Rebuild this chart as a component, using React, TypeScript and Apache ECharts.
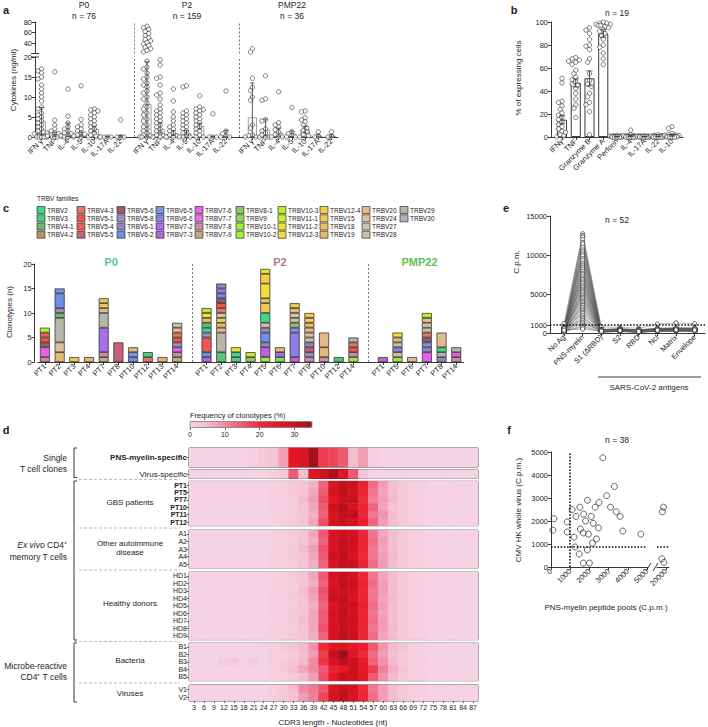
import React, { useEffect, useRef } from 'react';
import * as echarts from 'echarts';

const FONT = '"Liberation Sans", Arial, Helvetica, sans-serif';
const INK = '#1c1c1c';

/* ---------------- panel a : cytokines ---------------- */
const aCytokines = ['IFN γ', 'TNF', 'IL-4', 'IL-5', 'IL-10', 'IL-17A', 'IL-22'];
const aCohorts = ['P0', 'P2', 'PMP22'];
const aCohortN = [76, 159, 36];
const aMeanP0 = [3.9, 0.6, 0.8, 0.6, 2.0, 0.1, 0.2];
const aMeanP2 = [8.2, 2.0, 0.9, 1.0, 2.7, 0.1, 0.4];
const aMeanPMP22 = [4.9, 1.8, 1.1, 0.8, 2.0, 0.3, 0.3];
const aErrP0 = [[0.5, 7.4], [0.2, 1.2], [0.1, 3.5], [0.2, 1.2], [1.3, 2.7], [0, 0.2], [0, 0.4]];
const aErrP2 = [[0, 18.8], [1.0, 3.6], [0.4, 1.6], [0.5, 1.6], [2.0, 3.4], [0, 0.2], [0, 1.6]];
const aErrPMP22 = [[0, 13.5], [0.3, 4.5], [0.2, 2.2], [0.1, 1.5], [1.0, 2.6], [0, 0.6], [0, 0.6]];
const aPtsP0 = [
  [17, 16.5, 16, 15, 14.5, 13, 12, 11, 10, 9, 7.5, 7, 6, 5.5, 5, 4.5, 4, 3.5, 3, 2.5, 2, 1.5, 1.2, 1, 0.8, 0.5, 0.3, 0.2, 0.1, 0, 0, 0, 0, 0],
  [16.3, 4.2, 3, 2, 1.5, 1, 0.8, 0.5, 0.3, 0.2, 0, 0, 0, 0],
  [12, 5.2, 3.5, 2.5, 2, 1.5, 1, 0.8, 0.5, 0.3, 0, 0, 0],
  [12.8, 4.4, 3, 2.5, 2, 1.5, 1, 0.7, 0.5, 0.3, 0, 0],
  [7, 6.8, 6.5, 6, 5.5, 5, 4.5, 4, 3.5, 3, 2.5, 2, 1.5, 1, 0.5, 0.2, 0],
  [0, 0, 0, 0],
  [4.3, 0, 0, 0],
];
const aPtsP2 = [
  [72, 69, 66, 62, 58, 54, 50, 47, 44, 41, 38, 35, 32, 29, 26, 23, 19, 17.5, 17, 16, 15, 14.5, 13.5, 13, 12.5, 11.5, 11, 10, 9.5, 8.5, 7.5, 7, 6, 5.5, 4.5, 4, 3, 2.5, 2, 1.5, 1, 0.5, 0.3, 0, 0, 0, 0],
  [19.3, 18, 15, 14.7, 13, 11, 10.5, 9.5, 8, 7, 6.5, 6, 5.5, 5, 4.5, 4, 3.5, 3, 2.5, 2, 1.5, 1, 0.5, 0.3, 0, 0, 0],
  [12, 9, 6.3, 5, 4, 3, 2.5, 2, 1.5, 1, 0.5, 0.3, 0, 0],
  [12.8, 12.5, 6.5, 6, 5.5, 5, 4.5, 4, 3.5, 3, 2.5, 2, 1.5, 1, 0.5, 0, 0, 0],
  [10.3, 7.5, 7, 6.8, 6.5, 6, 5.5, 5, 4.5, 4, 3.5, 3, 2.5, 2, 1.5, 1, 0.5, 0, 0],
  [5.8, 0, 0, 0],
  [11.5, 1.5, 0.8, 0.3, 0, 0],
];
const aPtsPMP22 = [
  [29, 23, 14.7, 12.4, 11.6, 10, 9.2, 3, 2.2, 0.5, 0.3, 0, 0, 0],
  [15.3, 9.5, 9.2, 4.3, 4, 2, 1.5, 1, 0.5, 0, 0],
  [11.3, 3.6, 3, 2.5, 1.8, 1.2, 0.6, 0.2, 0, 0],
  [7.4, 1.3, 0.8, 0.4, 0, 0],
  [6.5, 6.3, 4.8, 4.3, 3.8, 3, 2.3, 1.6, 1.2, 0.7, 0.3, 0],
  [1.3, 0.2, 0],
  [1.3, 0.2, 0],
];

/* ---------------- panel b ---------------- */
const bMarkers = ['IFNγ', 'TNF', 'Granzyme B', 'Granzyme A', 'Perforin', 'IL-4', 'IL-17A', 'IL-22', 'IL-10'];
const bN = 19;
const bMeans = [15, 47, 51, 90, 0.4, 0.7, 0.3, 0.5, 1.4];
const bErr = [[11.5, 18.5], [43.5, 50.5], [44.5, 57.5], [86.8, 93.2], [0.2, 0.6], [0.3, 1.1], [0.1, 0.5], [0.3, 0.7], [0.8, 2.0]];
const bPoints = [
  [51, 47, 31, 30, 27, 24, 21, 19, 17, 15, 13, 11, 9, 7, 5, 4, 2, 1, 0],
  [69, 68, 67, 66, 65, 63, 58, 55, 52, 50, 48, 46, 45, 42, 38, 33, 28, 25, 17],
  [95, 93, 90, 85, 80, 79, 76, 68, 65, 55, 49, 46, 44, 38, 35, 30, 28, 22, 2],
  [100, 99, 99, 98, 98, 97, 97, 96, 95, 93, 92, 90, 88, 85, 80, 78, 73, 68, 63],
  [1.5, 1, 1, 0.8, 0.6, 0.5, 0.4, 0.3, 0.3, 0.2, 0.2, 0.1, 0.1, 0, 0, 0, 0, 0, 0],
  [6, 2, 1.5, 1.2, 1, 0.8, 0.6, 0.5, 0.4, 0.3, 0.2, 0.1, 0.1, 0, 0, 0, 0, 0, 0],
  [1.2, 1, 0.8, 0.6, 0.5, 0.4, 0.3, 0.2, 0.2, 0.1, 0.1, 0, 0, 0, 0, 0, 0, 0, 0],
  [1.8, 1.5, 1.2, 1, 0.8, 0.6, 0.5, 0.4, 0.3, 0.2, 0.1, 0.1, 0, 0, 0, 0, 0, 0, 0],
  [9, 7.5, 3, 2.2, 1.8, 1.5, 1.2, 1, 0.8, 0.6, 0.5, 0.4, 0.3, 0.2, 0.1, 0, 0, 0, 0],
];

/* ---------------- panel c : TRBV clonotypes ---------------- */
const trbvFamilies = [
  'TRBV2', 'TRBV3', 'TRBV4-1', 'TRBV4-2', 'TRBV4-3', 'TRBV5-1', 'TRBV5-4', 'TRBV5-5', 'TRBV5-6', 'TRBV5-8',
  'TRBV6-1', 'TRBV6-2', 'TRBV6-5', 'TRBV6-6', 'TRBV7-2', 'TRBV7-3', 'TRBV7-6', 'TRBV7-7', 'TRBV7-8', 'TRBV7-9',
  'TRBV8-1', 'TRBV9', 'TRBV10-1', 'TRBV10-2', 'TRBV10-3', 'TRBV11-1', 'TRBV11-2', 'TRBV12-3', 'TRBV12-4', 'TRBV15',
  'TRBV18', 'TRBV19', 'TRBV20', 'TRBV24', 'TRBV27', 'TRBV28', 'TRBV29', 'TRBV30',
];
const trbvColors = [
  '#3fd88a', '#52c878', '#73b36a', '#b8925a', '#e07a5f', '#f0554f', '#e8605e', '#c9607a', '#9d5a69', '#9a8fbd',
  '#9087c2', '#6f8fe6', '#7b93ea', '#8e7de6', '#a670e6', '#c25ee0', '#e562e8', '#ec6fe6', '#d08aa6', '#c2aa7a',
  '#95c466', '#86e04a', '#9aee3c', '#a7f030', '#b8f026', '#cfee2a', '#e6e832', '#f3dc3a', '#f2cc44', '#efc85a',
  '#e8c066', '#e3b870', '#e3b98c', '#d8c2a0', '#cfc3a8', '#c7c0a5', '#b5b5aa', '#a9b8b8',
];
const cCohorts = ['P0', 'P2', 'PMP22'];
const cCohortColors = ['#5cbcb0', '#b07c8c', '#62bd55'];
const cPatientsP0 = ['PT1', 'PT2', 'PT3', 'PT4', 'PT7', 'PT8', 'PT10', 'PT12', 'PT13', 'PT14'];
const cPatientsP2 = ['PT1', 'PT2', 'PT3', 'PT4', 'PT5', 'PT6', 'PT7', 'PT9', 'PT10', 'PT12', 'PT14'];
const cPatientsPMP22 = ['PT1', 'PT5', 'PT6', 'PT7', 'PT8', 'PT14'];
const cStacksP0: [string, number][][] = [
  [['TRBV7-8', 1], ['TRBV7-6', 2], ['TRBV5-6', 1], ['TRBV5-1', 1], ['TRBV5-4', 1], ['TRBV10-3', 1]],
  [['TRBV19', 2], ['TRBV24', 2], ['TRBV29', 5], ['TRBV4-1', 1], ['TRBV5-8', 1], ['TRBV6-2', 3], ['TRBV6-5', 1]],
  [['TRBV12-4', 1]],
  [['TRBV19', 1]],
  [['TRBV7-9', 1], ['TRBV7-8', 1], ['TRBV7-2', 5], ['TRBV29', 3], ['TRBV20', 1], ['TRBV15', 1], ['TRBV12-4', 1]],
  [['TRBV5-5', 4]],
  [['TRBV6-2', 1], ['TRBV6-5', 1], ['TRBV19', 1]],
  [['TRBV4-3', 1], ['TRBV2', 1]],
  [['TRBV19', 1]],
  [['TRBV7-9', 1], ['TRBV7-8', 1], ['TRBV7-6', 1], ['TRBV5-8', 1], ['TRBV5-1', 1], ['TRBV4-3', 1], ['TRBV20', 1], ['TRBV28', 1]],
];
const cStacksP2: [string, number][][] = [
  [['TRBV7-3', 1], ['TRBV6-2', 1], ['TRBV5-1', 3], ['TRBV5-8', 1], ['TRBV2', 1], ['TRBV3', 1], ['TRBV19', 1], ['TRBV12-3', 1], ['TRBV10-3', 1]],
  [['TRBV3', 2], ['TRBV29', 4], ['TRBV20', 1], ['TRBV19', 1], ['TRBV15', 1], ['TRBV24', 1], ['TRBV4-3', 1], ['TRBV5-1', 1], ['TRBV5-6', 1], ['TRBV6-2', 1], ['TRBV7-2', 1], ['TRBV6-1', 1]],
  [['TRBV3', 1], ['TRBV2', 1], ['TRBV11-2', 1]],
  [['TRBV8-1', 1], ['TRBV11-1', 1]],
  [['TRBV10-1', 1], ['TRBV7-3', 2], ['TRBV6-1', 1], ['TRBV6-2', 2], ['TRBV5-8', 1], ['TRBV27', 1], ['TRBV2', 2], ['TRBV15', 2], ['TRBV18', 1], ['TRBV12-3', 3], ['TRBV12-4', 2], ['TRBV11-2', 1]],
  [['TRBV9', 1], ['TRBV7-2', 1], ['TRBV19', 1]],
  [['TRBV7-3', 1], ['TRBV6-6', 5], ['TRBV6-5', 1], ['TRBV8-1', 1], ['TRBV28', 1], ['TRBV24', 1], ['TRBV20', 1], ['TRBV12-4', 1]],
  [['TRBV7-8', 1], ['TRBV5-8', 1], ['TRBV5-5', 1], ['TRBV6-1', 1], ['TRBV28', 1], ['TRBV24', 1], ['TRBV20', 1], ['TRBV19', 1], ['TRBV15', 1], ['TRBV12-4', 1]],
  [['TRBV7-8', 1], ['TRBV19', 2], ['TRBV20', 3]],
  [['TRBV3', 1]],
  [['TRBV10-1', 1], ['TRBV7-8', 1], ['TRBV5-1', 1], ['TRBV4-3', 1], ['TRBV29', 1]],
];
const cStacksPMP22: [string, number][][] = [
  [['TRBV7-3', 1]],
  [['TRBV10-1', 1], ['TRBV24', 1], ['TRBV6-6', 1], ['TRBV28', 1], ['TRBV20', 1], ['TRBV12-3', 1]],
  [['TRBV20', 1]],
  [['TRBV7-6', 2], ['TRBV6-1', 1], ['TRBV6-5', 1], ['TRBV5-6', 1], ['TRBV4-3', 1], ['TRBV28', 1], ['TRBV24', 1], ['TRBV20', 1], ['TRBV10-3', 1]],
  [['TRBV6-1', 1], ['TRBV29', 1], ['TRBV2', 1], ['TRBV20', 3]],
  [['TRBV7-8', 1], ['TRBV7-6', 1], ['TRBV29', 1]],
];

/* ---------------- panel d : CDR3 heatmap ---------------- */
const dLengths = ['3', '6', '9', '12', '15', '18', '21', '24', '27', '30', '33', '36', '39', '42', '45', '48', '51', '54', '57', '60', '63', '66', '69', '72', '75', '78', '81', '84', '87'];
const dRowsSingle1 = ['PNS-myelin-specific'];
const dRowsSingle2 = ['Virus-specific'];
const dRowsGBS = ['PT1', 'PT5', 'PT7', 'PT10', 'PT11', 'PT12'];
const dRowsAuto = ['A1', 'A2', 'A3', 'A4', 'A5'];
const dRowsHD = ['HD1', 'HD2', 'HD3', 'HD4', 'HD5', 'HD6', 'HD7', 'HD8', 'HD9'];
const dRowsBact = ['B1', 'B2', 'B3', 'B4', 'B5'];
const dRowsVir = ['V1', 'V2'];
const dValSingle1 = [[0, 0, 0, 0, 0, 0, 1, 2, 3, 8, 25, 27, 34, 18, 17, 15, 4, 8, 1, 0, 0, 0, 0, 0, 0, 0, 0, 0, 0]];
const dValSingle2 = [[0, 0, 0, 0, 0, 0, 0, 0, 1, 2, 15, 4, 26, 28, 33, 26, 15, 3, 0, 0, 0, 0, 0, 0, 0, 0, 0, 0, 0]];
const dValGBS = [
  [0, 0, 0, 0, 0, 0, 0, 0, 0.5, 1, 1.5, 3, 6, 14, 27, 30, 29, 22, 13, 8, 4, 2, 1, 0.5, 0, 0, 0, 0, 0],
  [0, 0, 0, 0, 0, 0, 0, 0, 0.6, 1, 2, 3, 7, 15, 28, 31, 28, 21, 12, 7, 4, 2, 1, 0.3, 0, 0, 0, 0, 0],
  [0, 0, 0, 0, 0, 0, 0, 0, 0.6, 1, 2, 4, 8, 16, 26, 29, 30, 20, 11, 8, 5, 2, 1, 0.5, 0, 0, 0, 0, 0],
  [0, 0, 0, 0, 0, 0, 0, 0, 0.5, 1, 1.5, 3, 7, 15, 29, 32, 27, 22, 14, 7, 3, 2, 1, 0.2, 0, 0, 0, 0, 0],
  [0, 0, 0, 0, 0, 0, 0, 0, 0.5, 1, 2, 3, 6, 14, 27, 31, 31, 21, 12, 9, 4, 2, 1, 0.5, 0, 0, 0, 0, 0],
  [0, 0, 0, 0, 0, 0, 0, 0, 0.4, 1, 1.5, 3, 7, 16, 28, 30, 28, 23, 14, 8, 4, 2, 1, 0.3, 0, 0, 0, 0, 0],
];
const dValAuto = [
  [0, 0, 0, 0, 0, 0, 0, 0, 0.5, 1, 2, 3, 7, 15, 27, 29, 28, 21, 12, 7, 4, 2, 1, 0.5, 0, 0, 0, 0, 0],
  [0, 0, 0, 0, 0, 0, 0, 0, 0.4, 1, 1.5, 3, 6, 14, 28, 31, 29, 22, 13, 8, 4, 2, 1, 0.3, 0, 0, 0, 0, 0],
  [0, 0, 0, 0, 0, 0, 0, 0, 0.6, 1, 2, 4, 8, 16, 27, 30, 28, 21, 12, 7, 4, 2, 1, 0.5, 0, 0, 0, 0, 0],
  [0, 0, 0, 0, 0, 0, 0, 0, 0.5, 1, 2, 3, 7, 15, 29, 31, 27, 20, 12, 8, 5, 2, 1, 0.4, 0, 0, 0, 0, 0],
  [0, 0, 0, 0, 0, 0, 0, 0, 0.5, 1, 1.5, 3, 6, 14, 27, 30, 30, 22, 13, 8, 4, 2, 1, 0.5, 0, 0, 0, 0, 0],
];
const dValHD = [
  [0, 0, 0, 0, 0, 0, 0, 0, 0.5, 1, 2, 3, 7, 15, 28, 30, 28, 21, 12, 7, 4, 2, 1, 0.4, 0, 0, 0, 0, 0],
  [0, 0, 0, 0, 0, 0, 0, 0, 0.4, 1, 1.5, 3, 6, 14, 27, 31, 29, 22, 13, 8, 4, 2, 1, 0.5, 0, 0, 0, 0, 0],
  [0, 0, 0, 0, 0, 0, 0, 0, 0.6, 1, 2, 4, 8, 16, 28, 29, 28, 21, 12, 8, 4, 2, 1, 0.3, 0, 0, 0, 0, 0],
  [0, 0, 0, 0, 0, 0, 0, 0, 0.5, 1, 2, 3, 7, 15, 29, 31, 27, 21, 12, 7, 5, 2, 1, 0.5, 0, 0, 0, 0, 0],
  [0, 0, 0, 0, 0, 0, 0, 0, 0.5, 1, 1.5, 3, 6, 14, 27, 30, 30, 22, 13, 8, 4, 2, 1, 0.4, 0, 0, 0, 0, 0],
  [0, 0, 0, 0, 0, 0, 0, 0, 0.5, 1, 2, 3, 7, 15, 28, 31, 28, 21, 12, 7, 4, 2, 1, 0.5, 0, 0, 0, 0, 0],
  [0, 0, 0, 0, 0, 0, 0, 0, 0.4, 1, 2, 4, 7, 15, 27, 30, 29, 22, 13, 8, 4, 2, 1, 0.3, 0, 0, 0, 0, 0],
  [0, 0, 0, 0, 0, 0, 0, 0, 0.5, 1, 1.5, 3, 7, 16, 28, 30, 28, 21, 12, 8, 5, 2, 1, 0.5, 0, 0, 0, 0, 0],
  [0, 0, 0, 0, 0, 0, 0, 0, 0.6, 1, 2, 3, 6, 14, 28, 31, 29, 21, 13, 7, 4, 2, 1, 0.4, 0, 0, 0, 0, 0],
];
const dValBact = [
  [0, 0, 0, 0, 0, 0, 0, 0.5, 1, 1.5, 3, 5, 9, 20, 26, 27, 25, 23, 15, 9, 5, 3, 1, 0.5, 0, 0, 0, 0, 0],
  [0, 0, 0, 0, 0, 0, 0, 0, 1, 1, 2, 4, 8, 18, 30, 35, 26, 20, 13, 8, 4, 2, 1, 0.5, 0, 0, 0, 0, 0],
  [0, 0, 0, 2, 2, 0, 1.5, 0, 1, 2, 3, 5, 10, 19, 27, 31, 29, 24, 14, 9, 5, 2, 1, 0.5, 0, 0, 0, 0, 0],
  [0, 0, 0, 0, 0, 0, 0, 0, 1, 2, 4, 7, 10, 15, 22, 25, 30, 24, 18, 11, 6, 3, 1, 0.5, 0, 0, 0, 0, 0],
  [0, 0, 0, 0, 0, 0, 0, 0, 0.5, 1, 2, 4, 8, 16, 25, 30, 29, 26, 15, 9, 5, 2, 1, 0.5, 0, 0, 0, 0, 0],
];
const dValVir = [
  [0, 0, 0, 0, 0, 0, 0, 0, 1, 2, 4, 10, 12, 15, 27, 30, 28, 20, 12, 8, 4, 2, 1, 0.5, 0, 0, 0, 0, 0],
  [0, 0, 0, 0, 0, 0, 0, 0, 1, 2, 3, 8, 11, 17, 28, 31, 27, 21, 13, 8, 4, 2, 1, 0.5, 0, 0, 0, 0, 0],
];
const dScaleTicks = [0, 10, 20, 30];

/* ---------------- panel e ---------------- */
const eAntigens = ['No Ag', 'PNS-myelin', 'S1 (ΔRBD)', 'S2', 'RBD', 'Ncl', 'Matrix', 'Envelope'];
const eN = 52;
const eYTicks = [0, 1000, 5000, 10000, 15000];
const eNoAg = [1200, 850, 620, 480, 300, 210, 150, 390, 560, 270, 180, 720, 440, 330, 250, 160, 95, 510, 640, 380, 220, 140, 310, 460, 590, 270, 190, 120, 350, 420, 230, 170, 680, 530, 290, 200, 110, 370, 450, 260, 150, 330, 410, 240, 180, 90, 560, 310, 220, 140, 280, 360];
const ePNS = [12720, 12480, 12310, 11950, 11600, 11420, 10980, 10650, 10400, 10120, 9870, 9530, 9310, 8960, 8720, 8450, 8200, 7910, 7660, 7480, 7200, 6950, 6810, 6540, 6330, 6050, 5880, 5620, 5410, 5230, 4980, 4760, 4550, 4380, 4120, 3950, 3700, 3520, 3300, 3080, 2860, 2650, 2480, 2230, 2010, 1820, 1600, 1380, 1150, 920, 740, 510];
const eS1 = [780, 420, 300, 210, 180, 260, 350, 140, 230, 310, 480, 200, 160, 270, 390, 120, 250, 330, 190, 220, 280, 150, 360, 240, 170, 300, 410, 130, 260, 200, 340, 180, 230, 290, 150, 380, 210, 270, 160, 320, 250, 190, 440, 140, 230, 300, 170, 260, 350, 210, 180, 240];
const eS2 = [720, 510, 380, 300, 260, 340, 450, 220, 310, 400, 560, 280, 240, 350, 470, 200, 330, 410, 270, 300, 360, 230, 440, 320, 250, 380, 490, 210, 340, 280, 420, 260, 310, 370, 230, 460, 290, 350, 240, 400, 330, 270, 520, 220, 310, 380, 250, 340, 430, 290, 260, 320];
const eRBD = [600, 380, 260, 190, 150, 230, 320, 120, 200, 280, 430, 170, 140, 240, 350, 100, 220, 300, 160, 190, 250, 130, 330, 210, 150, 270, 370, 110, 230, 180, 310, 160, 200, 260, 130, 340, 190, 240, 140, 290, 220, 170, 400, 120, 200, 270, 150, 230, 320, 180, 160, 210];
const eNcl = [1150, 560, 430, 340, 290, 380, 500, 250, 350, 450, 620, 310, 270, 390, 520, 230, 370, 460, 300, 340, 410, 260, 490, 360, 280, 430, 540, 240, 380, 310, 470, 290, 350, 420, 260, 510, 330, 390, 270, 450, 370, 300, 580, 250, 350, 430, 280, 380, 480, 320, 290, 360];
const eMatrix = [1300, 620, 470, 380, 320, 420, 550, 280, 390, 500, 680, 340, 300, 430, 570, 260, 410, 510, 330, 370, 450, 290, 540, 400, 310, 470, 600, 270, 420, 340, 520, 320, 390, 460, 290, 560, 360, 430, 300, 490, 410, 330, 640, 280, 390, 470, 310, 420, 530, 350, 320, 400];
const eEnvelope = [1200, 590, 450, 360, 300, 400, 520, 260, 370, 480, 650, 320, 280, 410, 540, 240, 390, 490, 310, 350, 430, 270, 510, 380, 290, 450, 570, 250, 400, 320, 500, 300, 370, 440, 270, 530, 340, 410, 280, 470, 390, 310, 610, 260, 370, 450, 290, 400, 510, 330, 300, 380];
const eThreshold = 1000;

/* ---------------- panel f ---------------- */
const fN = 38;
const fPNS = [150, 100, 840, 840, 1260, 1470, 1530, 1680, 1680, 1890, 1950, 2000, 2160, 2370, 2470, 3740, 4680, 1100, 1300, 1500, 1700, 1900, 2100, 2300, 2500, 2700, 2900, 3100, 3300, 3400, 3600, 1800, 2200, 1200, 19200, 18800, 18600, 19300];
const fCMV = [2100, 1600, 1960, 1520, 870, 565, 1650, 1480, 170, 740, 1430, 170, 1040, 1220, 1700, 1565, 1430, 2500, 2200, 2600, 2300, 2900, 2200, 2600, 2800, 4750, 3100, 2600, 3500, 2400, 2200, 2000, 1900, 1300, 2600, 2400, 360, 200];
const fXTicks = [0, 1000, 2000, 3000, 4000, 5000];
const fXBreakTick = [20000];
const fThreshX = 1000;
const fThreshY = 900;

/* ================================================================ */
const ptStyle = { color: '#ffffff', borderColor: '#2b2b2b', borderWidth: 0.75 };
const axLine = { show: true, onZero: false, lineStyle: { color: '#222', width: 0.9 } };
const axTick = { show: true, length: 3, lineStyle: { color: '#222', width: 0.9 } };
const plain = (v: number) => String(v);
const lbl = (extra: any = {}) => ({ fontFamily: FONT, fontSize: 7.5, color: INK, ...extra });

function swarm(ys: number[], d = 3.6, step = 1.8, maxK = 4): number[] {
  const placed: [number, number][] = [];
  return ys.map((y, i) => {
    let best = 0;
    let found = false;
    for (let k = 0; k <= maxK && !found; k++) {
      const cands = k === 0 ? [0] : [-k * step, k * step];
      for (const x of cands) {
        if (placed.every(([px, py]) => Math.hypot(px - x, py - y) >= d)) { best = x; found = true; break; }
      }
    }
    if (!found) best = [-5, -2.5, 0, 2.5, 5][i % 5];
    placed.push([best, y]);
    return best;
  });
}

function txt(x: number, y: number, text: string, o: any = {}) {
  const align = o.align || 'center';
  const valign = o.valign || 'middle';
  return {
    type: 'text', x, y, rotation: o.rotation || 0, silent: true, z: 50,
    style: {
      text, fontFamily: FONT, fontSize: o.size || 8, fontWeight: o.weight || 'normal', fontStyle: o.style || 'normal',
      fill: o.color || INK, align, verticalAlign: valign, textAlign: align, textVerticalAlign: valign, rich: o.rich,
    },
  };
}
function ln(x1: number, y1: number, x2: number, y2: number, o: any = {}) {
  return { type: 'line', silent: true, z: 50, shape: { x1, y1, x2, y2 }, style: { stroke: o.color || '#222', lineWidth: o.width || 0.9, lineDash: o.dash || null } };
}

function errSeries(xi: number, yi: number, data: number[][], cap = 2.5) {
  return {
    type: 'custom', xAxisIndex: xi, yAxisIndex: yi, data, z: 6, silent: true,
    encode: { x: 0, y: [1, 2] },
    renderItem: (_p: any, api: any) => {
      const x = api.value(0);
      const lo = api.coord([x, api.value(1)]);
      const hi = api.coord([x, api.value(2)]);
      const st = { stroke: '#333', lineWidth: 0.8 };
      return {
        type: 'group', children: [
          { type: 'line', shape: { x1: lo[0], y1: lo[1], x2: hi[0], y2: hi[1] }, style: st },
          { type: 'line', shape: { x1: hi[0] - cap, y1: hi[1], x2: hi[0] + cap, y2: hi[1] }, style: st },
          { type: 'line', shape: { x1: lo[0] - cap, y1: lo[1], x2: lo[0] + cap, y2: lo[1] }, style: st },
        ],
      };
    },
  };
}

function buildOption() {
  const grid: any[] = [];
  const xAxis: any[] = [];
  const yAxis: any[] = [];
  const series: any[] = [];
  const graphic: any[] = [];
  const G = (g: any) => { grid.push(g); return grid.length - 1; };
  const X = (a: any) => { xAxis.push(a); return xAxis.length - 1; };
  const Y = (a: any) => { yAxis.push(a); return yAxis.length - 1; };

  /* ---------- panel a ---------- */
  const aSlots: string[] = [];
  aCohorts.forEach((_c, g) => { aCytokines.forEach((n) => aSlots.push(n)); if (g < aCohorts.length - 1) aSlots.push(''); });
  const aMeans = [aMeanP0, aMeanP2, aMeanPMP22];
  const aErrs = [aErrP0, aErrP2, aErrPMP22];
  const aPts = [aPtsP0, aPtsP2, aPtsPMP22];
  const slotA = (g: number, c: number) => g * (aCytokines.length + 1) + c;

  const gAu = G({ left: 35, top: 22, width: 303, height: 31.5 });
  const gAl = G({ left: 35, top: 57, width: 303, height: 80 });
  const xAu = X({ type: 'category', gridIndex: gAu, data: aSlots, show: false });
  const yAu = Y({ type: 'value', gridIndex: gAu, min: 20, max: 80, axisLine: axLine, splitLine: { show: false },
    axisTick: { ...axTick, customValues: [40, 60, 80] }, axisLabel: { ...lbl(), margin: 3, customValues: [40, 60, 80], formatter: plain } });
  const xAl = X({ type: 'category', gridIndex: gAl, data: aSlots, axisLine: axLine,
    axisTick: { ...axTick, alignWithLabel: true, interval: (_i: number, v: string) => v !== '' },
    axisLabel: { ...lbl(), interval: 0, rotate: 45, margin: 3 } });
  const yAl = Y({ type: 'value', gridIndex: gAl, min: 0, max: 20, interval: 5, axisLine: axLine, splitLine: { show: false },
    axisTick: axTick, axisLabel: { ...lbl(), margin: 3, formatter: plain } });

  const aBar: any[] = aSlots.map(() => '-');
  const aLow: any[] = [];
  const aUp: any[] = [];
  const aErrData: number[][] = [];
  aCohorts.forEach((_c, g) => {
    aCytokines.forEach((_n, c) => {
      const s = slotA(g, c);
      aBar[s] = aMeans[g][c];
      aErrData.push([s, aErrs[g][c][0], aErrs[g][c][1]]);
      const vals = [...aPts[g][c]].sort((p, q) => q - p);
      const up = vals.filter((v) => v > 20);
      const lo = vals.filter((v) => v <= 20);
      swarm(up.map((v) => v * 0.525)).forEach((dx, i) => aUp.push({ value: [s, up[i]], symbolOffset: [dx, 0] }));
      swarm(lo.map((v) => v * 4)).forEach((dx, i) => aLow.push({ value: [s, lo[i]], symbolOffset: [dx, 0] }));
    });
  });
  const sepLine = (idx: number[]) => ({
    silent: true, symbol: 'none', label: { show: false },
    lineStyle: { type: [2, 2], color: '#555', width: 0.8 }, data: idx.map((i) => ({ xAxis: i })),
  });
  series.push({ type: 'bar', xAxisIndex: xAl, yAxisIndex: yAl, data: aBar, barWidth: 9, z: 2,
    itemStyle: { color: 'rgba(255,255,255,0)', borderColor: '#8a8a8a', borderWidth: 0.8 },
    markLine: sepLine([7, 15]) });
  series.push({ type: 'scatter', xAxisIndex: xAl, yAxisIndex: yAl, data: aLow, symbolSize: 4.4, itemStyle: ptStyle, z: 4 });
  series.push({ type: 'scatter', xAxisIndex: xAu, yAxisIndex: yAu, data: aUp, symbolSize: 4.4, itemStyle: ptStyle, z: 4,
    markLine: sepLine([7, 15]) });
  series.push(errSeries(xAl, yAl, aErrData, 2.2));

  graphic.push(txt(6, 10, 'a', { size: 11, weight: 'bold' }));
  const aCent = [84, 187, 292];
  aCohorts.forEach((c, g) => {
    graphic.push(txt(aCent[g], 5, c, { size: 8.5 }));
    graphic.push(txt(aCent[g], 15.5, 'n = ' + aCohortN[g], { size: 8.5 }));
  });
  graphic.push(txt(13, 80, 'Cytokines (ng/ml)', { size: 8, rotation: Math.PI / 2 }));
  graphic.push(ln(31, 53.5, 39, 53.5));
  graphic.push(ln(31, 57, 39, 57));

  /* ---------- panel b ---------- */
  const bIdx = bMarkers.map((_m, i) => i);
  const gB = G({ left: 551, top: 22, width: 132, height: 115 });
  const xB = X({ type: 'value', gridIndex: gB, min: -0.8, max: 8.8, splitLine: { show: false }, axisLine: axLine,
    axisTick: { ...axTick, customValues: bIdx }, axisLabel: { ...lbl(), customValues: bIdx, rotate: 45, margin: 3, formatter: (v: number) => bMarkers[Math.round(v)] } });
  const yB = Y({ type: 'value', gridIndex: gB, min: 0, max: 100, interval: 20, axisLine: axLine, splitLine: { show: false },
    axisTick: axTick, axisLabel: { ...lbl(), margin: 3, formatter: plain } });
  series.push({ type: 'bar', xAxisIndex: xB, yAxisIndex: yB, data: bMeans.map((m, i) => [i, m]), barWidth: 10, z: 2,
    itemStyle: { color: 'rgba(255,255,255,0)', borderColor: '#222', borderWidth: 0.9 } });
  const bPts: any[] = [];
  bPoints.forEach((vals, i) => {
    const sorted = [...vals].sort((p, q) => q - p);
    swarm(sorted.map((v) => v * 1.15)).forEach((dx, k) => bPts.push({ value: [i, sorted[k]], symbolOffset: [dx, 0] }));
  });
  series.push({ type: 'scatter', xAxisIndex: xB, yAxisIndex: yB, data: bPts, symbolSize: 4.4, itemStyle: ptStyle, z: 4 });
  series.push(errSeries(xB, yB, bErr.map((e, i) => [i, e[0], e[1]]), 3));
  graphic.push(txt(514, 10, 'b', { size: 11, weight: 'bold' }));
  graphic.push(txt(617, 13, 'n = ' + bN, { size: 8.5 }));
  graphic.push(txt(518, 78, '% of expressing cells', { size: 8, rotation: Math.PI / 2 }));

  /* ---------- panel c ---------- */
  const cGroups = [cPatientsP0, cPatientsP2, cPatientsPMP22];
  const cStackGroups = [cStacksP0, cStacksP2, cStacksPMP22];
  const cSlots: string[] = [];
  const cSlotStacks: ([string, number][] | null)[] = [];
  const cSepIdx: number[] = [];
  const cCenters: number[] = [];
  cGroups.forEach((pts, g) => {
    const start = cSlots.length;
    pts.forEach((p, i) => { cSlots.push(p); cSlotStacks.push(cStackGroups[g][i]); });
    cCenters.push((start + cSlots.length - 1) / 2);
    if (g < cGroups.length - 1) { cSepIdx.push(cSlots.length); cSlots.push(''); cSlotStacks.push(null); }
  });
  const colorOf = (f: string) => trbvColors[trbvFamilies.indexOf(f)] || '#999';
  const gC = G({ left: 37.6, top: 264, width: 426, height: 98 });
  const xC = X({ type: 'category', gridIndex: gC, data: cSlots, axisLine: axLine,
    axisTick: { ...axTick, alignWithLabel: true, interval: (_i: number, v: string) => v !== '' },
    axisLabel: { ...lbl(), interval: 0, rotate: 45, margin: 3 } });
  const yC = Y({ type: 'value', gridIndex: gC, min: 0, max: 20, interval: 5, offset: 3, axisLine: axLine, splitLine: { show: false },
    axisTick: axTick, axisLabel: { ...lbl(), margin: 3, formatter: plain } });
  const maxSeg = Math.max(...cSlotStacks.map((s) => (s ? s.length : 0)));
  for (let k = 0; k < maxSeg; k++) {
    series.push({
      type: 'bar', stack: 'clonotypes', xAxisIndex: xC, yAxisIndex: yC, barWidth: 10, z: 3,
      itemStyle: { borderColor: '#222', borderWidth: 0.7 },
      data: cSlotStacks.map((s) => (s && s[k] ? { value: s[k][1], itemStyle: { color: colorOf(s[k][0]) } } : '-')),
      markLine: k === 0 ? sepLine(cSepIdx) : undefined,
    });
  }
  graphic.push(txt(6, 208, 'c', { size: 11, weight: 'bold' }));
  graphic.push(txt(37, 198, 'TRBV families', { size: 6.5, align: 'left' }));
  const legColX = [37, 77, 117, 156, 195, 236, 278, 320, 362, 400];
  const legRowY = [210, 218.3, 226.5, 234.7];
  trbvFamilies.forEach((f, i) => {
    const col = Math.floor(i / 4);
    const row = i % 4;
    const x = legColX[col];
    const y = legRowY[row];
    graphic.push({ type: 'rect', silent: true, z: 50, shape: { x, y: y - 3.5, width: 8, height: 7 }, style: { fill: trbvColors[i], stroke: '#333', lineWidth: 0.7 } });
    graphic.push(txt(x + 10, y, f, { size: 6.5, align: 'left' }));
  });
  const cSlotW = 426 / cSlots.length;
  cCohorts.forEach((c, g) => {
    graphic.push(txt(37.6 + (cCenters[g] + 0.5) * cSlotW, 262, c, { size: 11, weight: 'bold', color: cCohortColors[g] }));
  });
  graphic.push(txt(9, 312, 'Clonotypes (n)', { size: 8, rotation: Math.PI / 2 }));

  /* ---------- panel e ---------- */
  const eSeriesVals = [eNoAg, ePNS, eS1, eS2, eRBD, eNcl, eMatrix, eEnvelope];
  const eIdx = eAntigens.map((_a, i) => i);
  const gE = G({ left: 550, top: 216, width: 155, height: 117 });
  const xE = X({ type: 'value', gridIndex: gE, min: -0.75, max: 7.55, splitLine: { show: false }, axisLine: axLine,
    axisTick: { ...axTick, customValues: eIdx }, axisLabel: { ...lbl(), customValues: eIdx, rotate: 45, margin: 3, formatter: (v: number) => eAntigens[Math.round(v)] } });
  const yE = Y({ type: 'value', gridIndex: gE, min: 0, max: 15000, axisLine: axLine, splitLine: { show: false },
    axisTick: { ...axTick, customValues: eYTicks }, axisLabel: { ...lbl(), margin: 3, customValues: eYTicks, formatter: plain } });
  for (let d = 0; d < eN; d++) {
    series.push({
      type: 'line', xAxisIndex: xE, yAxisIndex: yE, z: 3, silent: true,
      data: eSeriesVals.map((arr, j) => [j, arr[d]]),
      lineStyle: { color: 'rgba(95,95,95,0.75)', width: 0.6 },
      symbol: 'circle', symbolSize: 4.2, itemStyle: ptStyle,
      markLine: d === 0 ? { silent: true, symbol: 'none', label: { show: false }, lineStyle: { type: 'dotted', color: '#111', width: 1.6 }, data: [{ yAxis: eThreshold }] } : undefined,
    });
  }
  graphic.push(txt(506, 208, 'e', { size: 11, weight: 'bold' }));
  graphic.push(txt(617, 220, 'n = ' + eN, { size: 8.5 }));
  graphic.push(txt(516, 262, 'C.p.m.', { size: 8, rotation: Math.PI / 2 }));
  graphic.push(ln(598, 377, 701, 377));
  graphic.push(txt(649, 387, 'SARS-CoV-2 antigens', { size: 8 }));

  /* ---------- panel d ---------- */
  const dBlocks = [
    { rows: dRowsSingle1, vals: dValSingle1, top: 448, height: 19 },
    { rows: dRowsSingle2, vals: dValSingle2, top: 469.5, height: 9 },
    { rows: dRowsGBS, vals: dValGBS, top: 481.3, height: 44.4 },
    { rows: dRowsAuto, vals: dValAuto, top: 530.2, height: 37.6 },
    { rows: dRowsHD, vals: dValHD, top: 572.2, height: 67.5 },
    { rows: dRowsBact, vals: dValBact, top: 643.2, height: 37.5 },
    { rows: dRowsVir, vals: dValVir, top: 685, height: 16 },
  ];
  const heatIdx: number[] = [];
  dBlocks.forEach((b, bi) => {
    const last = bi === dBlocks.length - 1;
    const g = G({ left: 189, top: b.top, width: 289, height: b.height, show: true, borderColor: '#333', borderWidth: 1, backgroundColor: 'transparent' });
    const xi = X({ type: 'category', gridIndex: g, data: dLengths, show: last, axisLine: { show: false },
      axisTick: { show: last, length: 2, alignWithLabel: true, lineStyle: { color: '#222', width: 0.7 } },
      axisLabel: { ...lbl({ fontSize: 7 }), interval: 0, margin: 3, hideOverlap: false } });
    const yi = Y({ type: 'category', gridIndex: g, inverse: true, axisLine: { show: false },
      data: b.rows.map((r) => ({
        value: r,
        textStyle: bi === 0 ? { fontWeight: 'bold', fontSize: 8 } : bi === 1 ? { fontSize: 8 } : bi === 2 ? { fontWeight: 'bold' } : {},
      })),
      axisTick: { show: true, length: 2.5, alignWithLabel: true, lineStyle: { color: '#222', width: 0.7 } },
      axisLabel: { ...lbl({ fontSize: 7 }), interval: 0, margin: 2 } });
    series.push({
      type: 'heatmap', xAxisIndex: xi, yAxisIndex: yi, silent: true, z: 2,
      data: b.vals.flatMap((row, ri) => row.map((v, ci) => [ci, ri, v])),
      itemStyle: { borderWidth: 0 },
    });
    heatIdx.push(series.length - 1);
  });
  const gS = G({ left: 190, top: 427, width: 122, height: 1 });
  const xS = X({ type: 'value', gridIndex: gS, min: 0, max: 35, axisLine: { show: false }, splitLine: { show: false },
    axisTick: { show: true, length: 2, lineStyle: { color: '#222', width: 0.7 }, customValues: dScaleTicks },
    axisLabel: { ...lbl({ fontSize: 7 }), margin: 3, customValues: dScaleTicks, formatter: plain } });
  const yS = Y({ type: 'value', gridIndex: gS, show: false });
  series.push({ type: 'scatter', xAxisIndex: xS, yAxisIndex: yS, data: [] });

  graphic.push(txt(6, 430, 'd', { size: 11, weight: 'bold' }));
  graphic.push(txt(190, 415, 'Frequency of clonotypes (%)', { size: 7.5, align: 'left' }));
  graphic.push({ type: 'rect', silent: true, z: 60, shape: { x: 190, y: 421.5, width: 122, height: 6 }, style: { fill: 'none', stroke: '#555', lineWidth: 0.6 } });
  graphic.push(txt(333, 722, 'CDR3 length - Nucleotides (nt)', { size: 8 }));
  graphic.push(txt(67, 458, 'Single', { size: 8.5, align: 'right' }));
  graphic.push(txt(67, 468.5, 'T cell clones', { size: 8.5, align: 'right' }));
  graphic.push(txt(67, 545, '{i|Ex vivo} CD4⁺', { size: 8.5, align: 'right', rich: { i: { fontStyle: 'italic', fontFamily: FONT, fontSize: 8.5, fill: INK } } }));
  graphic.push(txt(67, 557, 'memory T cells', { size: 8.5, align: 'right' }));
  graphic.push(txt(67, 666, 'Microbe-reactive', { size: 8.5, align: 'right' }));
  graphic.push(txt(67, 677, 'CD4⁺ T cells', { size: 8.5, align: 'right' }));
  graphic.push(txt(130, 502, 'GBS patients', { size: 8 }));
  graphic.push(txt(130, 543, 'Other autoimmune', { size: 8 }));
  graphic.push(txt(130, 552.5, 'disease', { size: 8 }));
  graphic.push(txt(130, 603, 'Healthy donors', { size: 8 }));
  graphic.push(txt(130, 660, 'Bacteria', { size: 8 }));
  graphic.push(txt(130, 693, 'Viruses', { size: 8 }));
  [[448, 477.5], [481, 640], [643, 702]].forEach(([a, b]) => {
    graphic.push(ln(74, a, 74, b));
    graphic.push(ln(74, a, 77, a));
    graphic.push(ln(74, b, 77, b));
  });
  [[79, 479.5], [79, 528], [79, 570], [74, 641.5], [79, 683]].forEach(([x0, y]) => {
    graphic.push(ln(x0, y, 180, y, { color: '#aaa', dash: [3, 2], width: 0.8 }));
  });

  /* ---------- panel f ---------- */
  const gF = G({ left: 551, top: 452, width: 96, height: 115 });
  const gF2 = G({ left: 657, top: 452, width: 12, height: 115 });
  const xF = X({ type: 'value', gridIndex: gF, min: 0, max: 5000, splitLine: { show: false }, axisLine: axLine,
    axisTick: { ...axTick, customValues: fXTicks }, axisLabel: { ...lbl(), rotate: 45, margin: 3, customValues: fXTicks, formatter: plain } });
  const yF = Y({ type: 'value', gridIndex: gF, min: 0, max: 5000, interval: 1000, axisLine: axLine, splitLine: { show: false },
    axisTick: axTick, axisLabel: { ...lbl(), margin: 3, formatter: plain } });
  const xF2 = X({ type: 'value', gridIndex: gF2, min: 17000, max: 21000, splitLine: { show: false }, axisLine: axLine,
    axisTick: { ...axTick, customValues: fXBreakTick }, axisLabel: { ...lbl(), rotate: 45, margin: 3, customValues: fXBreakTick, formatter: plain } });
  const yF2 = Y({ type: 'value', gridIndex: gF2, min: 0, max: 5000, show: false });
  const fMain: number[][] = [];
  const fFar: number[][] = [];
  fPNS.forEach((x, i) => (x > 5000 ? fFar : fMain).push([x, fCMV[i]]));
  const dotted = { type: 'dotted', color: '#111', width: 1.6 };
  series.push({ type: 'scatter', xAxisIndex: xF, yAxisIndex: yF, data: fMain, symbolSize: 6, itemStyle: { ...ptStyle, color: 'rgba(255,255,255,0)', borderWidth: 0.9 }, z: 4,
    markLine: { silent: true, symbol: 'none', label: { show: false }, lineStyle: dotted, data: [{ xAxis: fThreshX }, { yAxis: fThreshY }] } });
  series.push({ type: 'scatter', xAxisIndex: xF2, yAxisIndex: yF2, data: fFar, symbolSize: 6, itemStyle: { ...ptStyle, color: 'rgba(255,255,255,0)', borderWidth: 0.9 }, z: 4,
    markLine: { silent: true, symbol: 'none', label: { show: false }, lineStyle: dotted, data: [{ yAxis: fThreshY }] } });
  graphic.push(txt(509, 430, 'f', { size: 11, weight: 'bold' }));
  graphic.push(txt(617, 440, 'n = ' + fN, { size: 8.5 }));
  graphic.push(txt(518, 510, 'CMV HK whole virus (C.p.m.)', { size: 8, rotation: Math.PI / 2 }));
  graphic.push(txt(606, 607, 'PNS-myelin peptide pools (C.p.m.)', { size: 8 }));
  graphic.push(ln(646, 571, 651, 563));
  graphic.push(ln(653, 571, 658, 563));

  return {
    animation: false,
    backgroundColor: '#ffffff',
    textStyle: { fontFamily: FONT },
    grid, xAxis, yAxis, series, graphic,
    visualMap: {
      type: 'continuous', min: 0, max: 35, seriesIndex: heatIdx, orient: 'horizontal', left: 190, top: 421.5,
      itemWidth: 6, itemHeight: 122, calculable: false, padding: 0, text: null, showLabel: false, hoverLink: false,
      inRange: { color: ['#f6d3e2', '#f4b9cd', '#f08aa4', '#ee5a72', '#ec2a3a', '#e81624', '#c8101e', '#9e0f1c'] },
    },
  };
}

export default function App() {
  const ref = useRef<HTMLDivElement>(null);
  useEffect(() => {
    const chart = echarts.init(ref.current as HTMLDivElement, null, { renderer: 'svg', width: 708, height: 727 });
    chart.setOption(buildOption() as any);
    return () => chart.dispose();
  }, []);
  return <div ref={ref} style={{ position: 'fixed', left: 0, top: 0, width: 708, height: 727, background: '#fff' }} />;
}
